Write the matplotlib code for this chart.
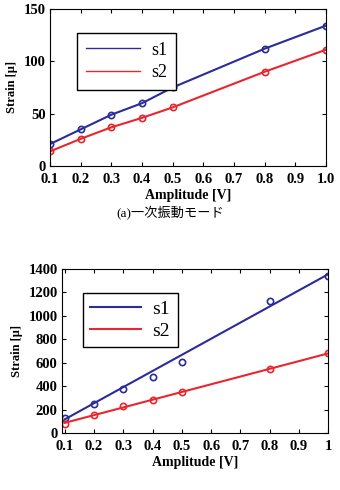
import matplotlib
matplotlib.use("Agg")
import matplotlib.pyplot as plt

plt.rcParams['font.family'] = ['Liberation Serif', 'Noto Sans CJK JP']

# (a) first vibration mode, measured strain
amp_a = [0.1, 0.2, 0.3, 0.4, 0.5, 0.8, 1.0]
s1_a = [21, 35, 49, 60, 75, 112, 134]
s2_a = [14, 26, 37, 46, 56, 90, 111]

# (b) second plot, measured strain and fitted lines
amp_b = [0.1, 0.2, 0.3, 0.4, 0.5, 0.8, 1.0]
s1_b = [131, 249, 374, 480, 606, 1129, 1337]
s2_b = [77, 157, 229, 286, 351, 549, 680]
fit_x = [0.1, 1.0]
fit_s1 = [118, 1355]
fit_s2 = [88, 680]

blue = "#2b2b9a"
red = "#e8262e"

fig = plt.figure(figsize=(3.4, 4.9), dpi=100)

def style(ax):
    ax.tick_params(direction="in", top=True, right=True, length=3, labelsize=10.5)
    ax.tick_params(axis="x", pad=5)
    ax.tick_params(axis="y", pad=3)
    for lab in ax.get_xticklabels() + ax.get_yticklabels():
        lab.set_fontweight("bold")
    for sp in ax.spines.values():
        sp.set_linewidth(0.8)

# top plot
ax1 = fig.add_axes([0.147, 0.661, 0.812, 0.321])
ax1.plot(amp_a, s1_a, color=blue, lw=1.5, marker="o", mfc="none", ms=4.5, mew=1.2, label="s1")
ax1.plot(amp_a, s2_a, color=red, lw=1.5, marker="o", mfc="none", ms=4.5, mew=1.2, label="s2")
ax1.set_xlim(0.1, 1.0)
ax1.set_ylim(0, 150)
ax1.set_xticks([0.1, 0.2, 0.3, 0.4, 0.5, 0.6, 0.7, 0.8, 0.9, 1.0])
ax1.set_xticklabels(["0.1", "0.2", "0.3", "0.4", "0.5", "0.6", "0.7", "0.8", "0.9", "1.0"])
ax1.set_yticks([0, 50, 100, 150])
ax1.set_xlabel("Amplitude [V]", fontsize=10, fontweight="bold", labelpad=2)
ax1.set_ylabel("Strain [\u03bc]", fontsize=9, fontweight="bold", labelpad=4)
style(ax1)
leg1 = ax1.legend(handles=[ax1.lines[0], ax1.lines[1]], labels=["s1", "s2"],
                  loc="upper left", bbox_to_anchor=(0.065, 0.905), fontsize=13,
                  handlelength=3.0, fancybox=False, edgecolor="black", framealpha=1,
                  borderpad=0.5, handletextpad=0.6, labelspacing=0.3)
for h in leg1.legend_handles:
    h.set_marker("")
    h.set_linewidth(1.0)
leg1.get_frame().set_linewidth(1.0)

fig.text(0.5, 0.565, "(a)一次振動モード", ha="center", va="center", fontsize=9.5)

# bottom plot
ax2 = fig.add_axes([0.182, 0.116, 0.783, 0.335])
ax2.plot(amp_b, s1_b, "o", color=blue, mfc="none", ms=4.5, mew=1.2)
ax2.plot(amp_b, s2_b, "o", color=red, mfc="none", ms=4.5, mew=1.2)
l1, = ax2.plot(fit_x, fit_s1, color=blue, lw=1.5, label="s1")
l2, = ax2.plot(fit_x, fit_s2, color=red, lw=1.5, label="s2")
ax2.set_xlim(0.09, 1.0)
ax2.set_ylim(0, 1400)
ax2.set_xticks([0.1, 0.2, 0.3, 0.4, 0.5, 0.6, 0.7, 0.8, 0.9, 1.0])
ax2.set_xticklabels(["0.1", "0.2", "0.3", "0.4", "0.5", "0.6", "0.7", "0.8", "0.9", "1"])
ax2.set_yticks(range(0, 1401, 200))
ax2.set_xlabel("Amplitude [V]", fontsize=10, fontweight="bold", labelpad=2)
ax2.set_ylabel("Strain [\u03bc]", fontsize=9, fontweight="bold", labelpad=4)
style(ax2)
leg2 = ax2.legend(handles=[l1, l2], loc="upper left", bbox_to_anchor=(0.041, 0.915),
                  fontsize=14, handlelength=2.6, fancybox=False, edgecolor="black",
                  framealpha=1, borderpad=0.4, handletextpad=0.6, labelspacing=0.2)
leg2.get_frame().set_linewidth(1.0)

fig.savefig("out.png", dpi=100)
